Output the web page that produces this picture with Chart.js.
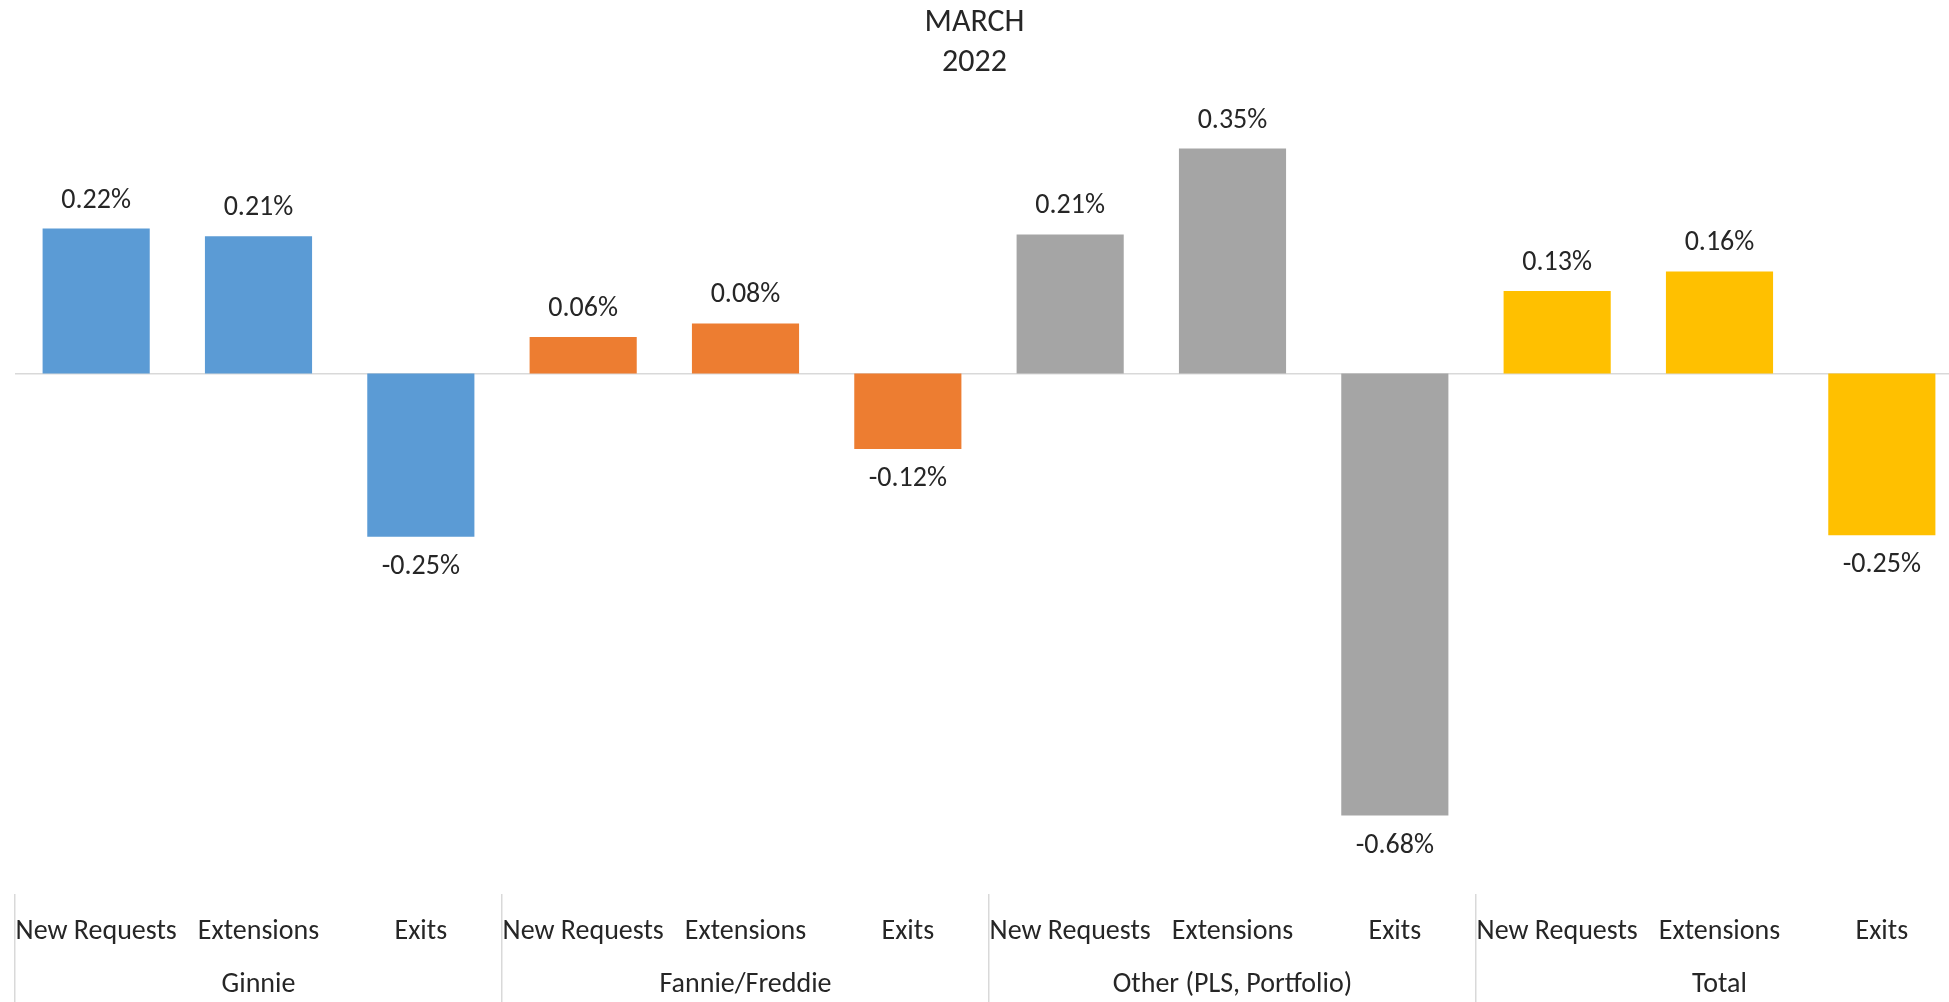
<!DOCTYPE html>
<html>
<head>
<meta charset="utf-8">
<script src="https://cdn.jsdelivr.net/npm/chart.js@4/dist/chart.umd.min.js"></script>
<style>
  html, body { margin: 0; padding: 0; background: #fff; overflow: hidden; width: 1949px; height: 1002px; }
  #wrap { position: absolute; left: -14px; top: 0; width: 1977px; height: 1002px; }
</style>
</head>
<body>
<div id="wrap"><canvas id="chart"></canvas></div>
<script>
const groups = ["Ginnie", "Fannie/Freddie", "Other (PLS, Portfolio)", "Total"];
const measures = ["New Requests", "Extensions", "Exits"];
const ginnie = [0.223, 0.211, -0.251];
const fannieFreddie = [0.056, 0.077, -0.116];
const other = [0.214, 0.346, -0.680];
const total = [0.127, 0.157, -0.249];
const titleLines = ["MARCH", "2022"];

const groupColors = ["#5B9BD5", "#ED7D31", "#A5A5A5", "#FFC000"];
const textColor = "#262626";
const fontFamily = "Carlito, Lato, 'Open Sans', sans-serif";

const series = [ginnie, fannieFreddie, other, total];
const values = series.flat();
const labels = [];
const colors = [];
series.forEach((g, gi) => {
  g.forEach((v, mi) => {
    // group name sits on the middle bar of each group, so it lands centred
    labels.push([measures[mi], mi === 1 ? groups[gi] : ""]);
    colors.push(groupColors[gi]);
  });
});

const valueLabels = {
  id: "valueLabels",
  afterDatasetsDraw(chart) {
    const ctx = chart.ctx;
    const meta = chart.getDatasetMeta(0);
    ctx.save();
    ctx.font = "28px " + fontFamily;
    ctx.fillStyle = textColor;
    ctx.textAlign = "center";
    ctx.textBaseline = "middle";
    meta.data.forEach((bar, i) => {
      const v = values[i];
      const y = v >= 0 ? bar.y - 28 : bar.y + 30;
      ctx.fillText(v.toFixed(2) + "%", bar.x, y);
    });
    ctx.restore();
  }
};

new Chart(document.getElementById("chart"), {
  type: "bar",
  data: {
    labels: labels,
    datasets: [{ data: values, backgroundColor: colors, borderWidth: 0, categoryPercentage: 0.66, barPercentage: 1 }]
  },
  options: {
    responsive: true,
    maintainAspectRatio: false,
    animation: false,
    layout: { padding: 0 },
    plugins: {
      legend: { display: false },
      tooltip: { enabled: false },
      title: {
        display: true,
        text: titleLines,
        color: textColor,
        font: { family: fontFamily, size: 32, weight: "normal", lineHeight: "40px" },
        padding: { top: 3, bottom: 30.5 }
      }
    },
    scales: {
      x: {
        offset: true,
        border: { display: false },
        grid: {
          offset: true,
          drawOnChartArea: false,
          drawTicks: true,
          tickLength: 108.5,
          lineWidth: 1.5,
          color: ctx => ctx.index % 3 === 0 ? "#D9D9D9" : "rgba(0,0,0,0)"
        },
        ticks: {
          autoSkip: false, maxRotation: 0, minRotation: 0,
          padding: -97,
          color: textColor,
          font: { family: fontFamily, size: 28, lineHeight: "53px" }
        },
        afterFit: s => { s.height = 108.5; }
      },
      y: {
        min: -0.8,
        max: 0.4,
        border: { display: false },
        grid: {
          drawTicks: false,
          lineWidth: 1.5,
          color: ctx => Math.abs(ctx.tick.value) < 1e-9 ? "#D9D9D9" : "rgba(0,0,0,0)"
        },
        ticks: { display: false, stepSize: 0.4 },
        afterFit: s => { s.width = 29; }
      }
    }
  },
  plugins: [valueLabels]
});
</script>
</body>
</html>
